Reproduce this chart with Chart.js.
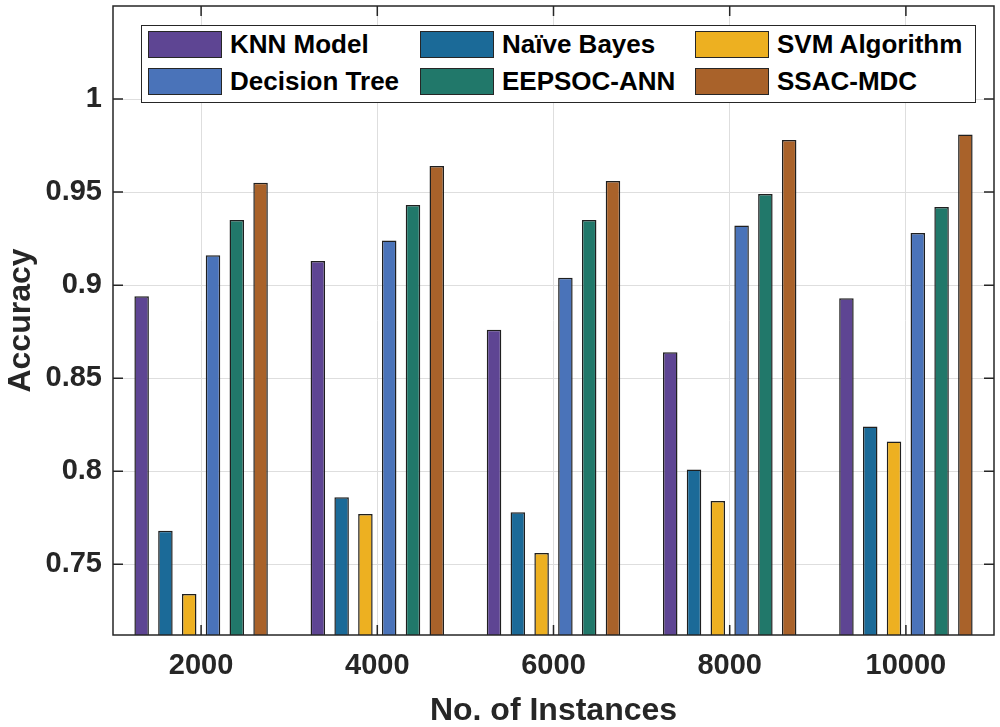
<!DOCTYPE html>
<html>
<head>
<meta charset="utf-8">
<title>Accuracy vs No. of Instances</title>
<script src="https://cdn.jsdelivr.net/npm/chart.js@4.4.1/dist/chart.umd.min.js"></script>
<style>
  html, body { margin: 0; padding: 0; background: #fff; }
  #wrap { position: relative; width: 1000px; height: 727px; }
  #legend {
    position: absolute; left: 141px; top: 25px; width: 835px; height: 78px;
    box-sizing: border-box; border: 1.5px solid #262626; background: #fff;
    font: bold 26px "Liberation Sans", Arial, sans-serif; color: #000;
  }
  .item { position: absolute; display: flex; align-items: center; height: 27px; white-space: nowrap; }
  .sw { width: 74px; height: 27px; box-sizing: border-box; border: 1.5px solid #262626; margin-right: 8px; }
</style>
</head>
<body>
<div id="wrap">
  <canvas id="myChart"></canvas>
  <div id="legend"></div>
</div>
<script>
var categories = ['2000', '4000', '6000', '8000', '10000'];

var seriesNames = ['KNN Model', 'Naïve Bayes', 'SVM Algorithm', 'Decision Tree', 'EEPSOC-ANN', 'SSAC-MDC'];

var knnModel     = [0.894, 0.913, 0.876, 0.864, 0.893];
var naiveBayes   = [0.768, 0.786, 0.778, 0.801, 0.824];
var svmAlgorithm = [0.734, 0.777, 0.756, 0.784, 0.816];
var decisionTree = [0.916, 0.924, 0.904, 0.932, 0.928];
var eepsocAnn    = [0.935, 0.943, 0.935, 0.949, 0.942];
var ssacMdc      = [0.955, 0.964, 0.956, 0.978, 0.981];

var yTicks = [0.75, 0.8, 0.85, 0.9, 0.95, 1];
var yTickLabels = ['0.75', '0.8', '0.85', '0.9', '0.95', '1'];

var colors = ['#5E4593', '#1B6A98', '#EDB021', '#4A73B9', '#21786A', '#A9622A'];

var seriesValues = [knnModel, naiveBayes, svmAlgorithm, decisionTree, eepsocAnn, ssacMdc];

var textColor = '#262626';
var tickLen = 10;

// box around the axes with inward tick marks on all four sides
var framePlugin = {
  id: 'frame',
  afterDatasetsDraw: function(chart) {
    var ctx = chart.ctx;
    var a = chart.chartArea;
    var x = chart.scales.x;
    var y = chart.scales.y;
    ctx.save();
    ctx.strokeStyle = textColor;
    ctx.lineWidth = 1.5;
    ctx.beginPath();
    x.ticks.forEach(function(t, i) {
      var px = x.getPixelForTick(i);
      ctx.moveTo(px, a.bottom); ctx.lineTo(px, a.bottom - tickLen);
      ctx.moveTo(px, a.top); ctx.lineTo(px, a.top + tickLen);
    });
    y.ticks.forEach(function(t) {
      var py = y.getPixelForValue(t.value);
      ctx.moveTo(a.left, py); ctx.lineTo(a.left + tickLen, py);
      ctx.moveTo(a.right, py); ctx.lineTo(a.right - tickLen, py);
    });
    ctx.stroke();
    ctx.strokeRect(a.left, a.top, a.right - a.left, a.bottom - a.top);
    ctx.restore();
  }
};

var ctx = document.getElementById('myChart').getContext('2d');
var chart = new Chart(ctx, {
  type: 'bar',
  data: {
    labels: categories,
    datasets: seriesNames.map(function(name, i) {
      return {
        label: name,
        data: seriesValues[i],
        backgroundColor: colors[i],
        borderColor: '#1f1f1f',
        borderWidth: 1.5,
        barPercentage: 0.61,
        categoryPercentage: 0.81
      };
    })
  },
  options: {
    responsive: true,
    maintainAspectRatio: false,
    animation: false,
    layout: { padding: { top: 6, right: 6, left: 0, bottom: 0 } },
    plugins: {
      legend: { display: false },
      tooltip: { enabled: false }
    },
    scales: {
      x: {
        grid: { color: '#dedede', lineWidth: 1, offset: false, drawTicks: false },
        border: { display: false },
        ticks: {
          color: textColor,
          padding: 14,
          font: { family: '"Liberation Sans", Arial, sans-serif', size: 29, weight: 'bold' }
        },
        title: {
          display: true,
          text: 'No. of Instances',
          color: textColor,
          padding: { top: 1, bottom: 0 },
          font: { family: '"Liberation Sans", Arial, sans-serif', size: 32, weight: 'bold', lineHeight: 1 }
        },
        afterFit: function(s) {
          s.height = 92;
          s.paddingLeft = 0;
          s.paddingRight = 0;
        }
      },
      y: {
        min: 0.712,
        max: 1.05,
        grid: { color: '#dedede', lineWidth: 1, drawTicks: false },
        border: { display: false },
        afterBuildTicks: function(s) {
          s.ticks = yTicks.map(function(v) { return { value: v }; });
        },
        ticks: {
          color: textColor,
          padding: 11,
          font: { family: '"Liberation Sans", Arial, sans-serif', size: 29, weight: 'bold' },
          callback: function(value) {
            var i = yTicks.indexOf(value);
            return i >= 0 ? yTickLabels[i] : '';
          }
        },
        title: {
          display: true,
          text: 'Accuracy',
          color: textColor,
          padding: { top: 5, bottom: 0 },
          font: { family: '"Liberation Sans", Arial, sans-serif', size: 32, weight: 'bold', lineHeight: 1 }
        },
        afterFit: function(s) {
          s.width = 113;
          s.paddingTop = 0;
          s.paddingBottom = 0;
        }
      }
    }
  },
  plugins: [framePlugin]
});

// legend inside the axes, three columns, two rows
var legend = document.getElementById('legend');
var colX = [6, 278, 553];
var rowY = [5, 42];
seriesNames.forEach(function(name, i) {
  var item = document.createElement('div');
  item.className = 'item';
  item.style.left = colX[i % 3] + 'px';
  item.style.top = rowY[Math.floor(i / 3)] + 'px';
  var sw = document.createElement('div');
  sw.className = 'sw';
  sw.style.background = colors[i];
  var label = document.createElement('span');
  label.textContent = name;
  item.appendChild(sw);
  item.appendChild(label);
  legend.appendChild(item);
});
</script>
</body>
</html>
